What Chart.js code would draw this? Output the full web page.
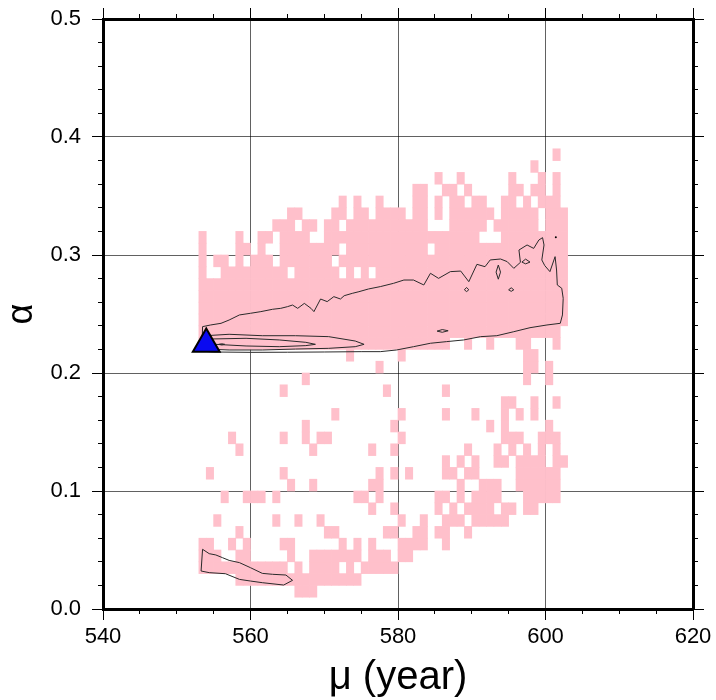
<!DOCTYPE html>
<html>
<head>
<meta charset="utf-8">
<script src="https://cdn.jsdelivr.net/npm/chart.js@4.4.1/dist/chart.umd.min.js"></script>
<style>
html,body{margin:0;padding:0;background:#fff;}
canvas{display:block;}
</style>
</head>
<body>
<canvas id="c" width="716" height="700"></canvas>
<script>
// ---------------- data ----------------
const muMajorTicks = [540, 560, 580, 600, 620];
const muMinorTicks = [540, 545, 550, 555, 560, 565, 570, 575, 580, 585, 590, 595, 600, 605, 610, 615, 620];
const alphaMajorTicks = [0.0, 0.1, 0.2, 0.3, 0.4, 0.5];
const alphaMinorTicks = [0.0, 0.02, 0.04, 0.06, 0.08, 0.1, 0.12, 0.14, 0.16, 0.18, 0.2, 0.22, 0.24, 0.26, 0.28, 0.3, 0.32, 0.34, 0.36, 0.38, 0.4, 0.42, 0.44, 0.46, 0.48, 0.5];

// shaded cells: 1 year wide, 0.01 tall; columns counted from firstYear
const firstYear = 553;
const cellAlphaStep = 0.01;
const rowAlphaLow = [0.38, 0.37, 0.36, 0.35, 0.34, 0.33, 0.32, 0.31, 0.30, 0.29,
                     0.28, 0.27, 0.26, 0.25, 0.24, 0.23, 0.22, 0.21, 0.20, 0.19,
                     0.18, 0.17, 0.16, 0.15, 0.14, 0.13, 0.12, 0.11, 0.10, 0.09,
                     0.08, 0.07, 0.06, 0.05, 0.04, 0.03, 0.02, 0.01];
const rowCells = [
  "48",
  "45",
  "32,35,42,46,48",
  "29-30,33-34,36,42-43,45-46,48",
  "19,21,24,29-30,32,34-35,37-38,41-42,44,46-48",
  "12-13,18-19,21-22,24-27,29-30,32,34-39,41-45,47-49",
  "10-12,14-15,17-18,20-30,34-38,40-45,47-49",
  "0,5,8-9,11-14,17-37,41-49",
  "0,5-6,8,11-18,20-30,32-49",
  "0,2-3,5,7-9,11-17,19-49",
  "0,3-11,13-18,20,22,24-49",
  "0-49",
  "0-49",
  "0-49",
  "0-49",
  "0-48",
  "0-33,36,39,43-44,48",
  "20,27,44-45",
  "24,44-45,47",
  "14,44,47",
  "11,25,33",
  "41-42,45,48",
  "18,27,33,37,41,43,45",
  "14,26,39,41,47",
  "4,11,14,16-17,27,41-43,46-48",
  "5,15,23,26,36,40,42,44,46,48",
  "33,35,37,40-41,43-46,48-49",
  "1,11,24,26,28,33-34,36-37,43-48",
  "12,15,23-24,35,38-40,43-48",
  "3,6-8,10,21-22,24,32-33,35,37-40,44-48",
  "23,26,32,34,36-39,41-42,44-45",
  "2,10,13,16,27,30,33-35,37-41",
  "5,17-18,25-26,29-30,32-33,36",
  "0-1,4,6,11-12,19,21,23,27-30,33",
  "0-2,5-6,12,15-21,23-25,27-28",
  "0-11,13,15-18,20,22-26",
  "5-21",
  "13-15"
];

// contour lines
const outerMu = [553.4, 553.5, 554.6, 556.0, 557.1, 558.5, 560.0, 561.4, 563.0, 564.1, 565.0, 565.7, 566.4, 567.3, 568.2, 568.6, 569.5, 570.4, 571.3, 572.2, 572.7, 573.8, 574.7, 576.0, 577.6, 579.4, 580.8, 582.1, 583.5, 584.4, 585.5, 587.1, 588.5, 589.6, 590.7, 591.8, 592.5, 593.9, 594.8, 595.7, 596.6, 596.4, 597.5, 598.4, 599.1, 599.6, 599.8, 599.5, 599.9, 600.6, 601.3, 601.5, 601.6, 602.2, 602.4, 602.3, 602.0, 600.2, 597.9, 595.7, 593.4, 591.2, 588.9, 586.6, 584.4, 582.1, 579.8, 577.6, 575.1, 570.0, 565.0, 560.0, 555.0, 553.4];
const outerAlpha = [0.2185, 0.2393, 0.2407, 0.2421, 0.2449, 0.2492, 0.2506, 0.2520, 0.2540, 0.2548, 0.2562, 0.2576, 0.2548, 0.2590, 0.2548, 0.2520, 0.2627, 0.2605, 0.2647, 0.2627, 0.2655, 0.2675, 0.2689, 0.2712, 0.2732, 0.2760, 0.2788, 0.2788, 0.2746, 0.2845, 0.2802, 0.2859, 0.2864, 0.2774, 0.2921, 0.2901, 0.2958, 0.2966, 0.2944, 0.2887, 0.2938, 0.3042, 0.3085, 0.3056, 0.3127, 0.3147, 0.3085, 0.2958, 0.2910, 0.2859, 0.2986, 0.2873, 0.2746, 0.2718, 0.2633, 0.2492, 0.2421, 0.2407, 0.2384, 0.2350, 0.2316, 0.2308, 0.2280, 0.2266, 0.2252, 0.2223, 0.2195, 0.2181, 0.2181, 0.2178, 0.2176, 0.2175, 0.2178, 0.2185];
const middleMu = [553.9, 557.1, 561.6, 566.1, 570.6, 574.2, 575.4, 574.2, 570.6, 566.1, 561.6, 557.1, 553.9, 553.9];
const middleAlpha = [0.2316, 0.2328, 0.2316, 0.2316, 0.2308, 0.2271, 0.2243, 0.2223, 0.2209, 0.2203, 0.2195, 0.2195, 0.2203, 0.2316];
const innerMu = [554.4, 559.4, 563.9, 567.5, 568.8, 567.5, 563.9, 559.4, 555.2, 554.4, 554.4];
const innerAlpha = [0.2288, 0.2294, 0.2280, 0.2260, 0.2243, 0.2232, 0.2223, 0.2229, 0.2243, 0.2265, 0.2288];
const tinyMu = [555.7, 556.1, 556.5, 556.1, 555.7];
const tinyAlpha = [0.2243, 0.2248, 0.2243, 0.2238, 0.2243];
const diamondMu = [593.6, 593.9, 593.6, 593.3, 593.6];
const diamondAlpha = [0.2915, 0.2855, 0.2795, 0.2855, 0.2915];
const loopAMu = [589.0, 589.3, 589.6, 589.3, 589.0];
const loopAAlpha = [0.2705, 0.2725, 0.2705, 0.2690, 0.2705];
const loopBMu = [595.0, 595.35, 595.7, 595.35, 595.0];
const loopBAlpha = [0.2705, 0.2722, 0.2705, 0.2692, 0.2705];
const loopCMu = [585.3, 586.0, 586.8, 586.0, 585.3];
const loopCAlpha = [0.2355, 0.2368, 0.2358, 0.2345, 0.2355];
const loopDMu = [596.8, 597.3, 597.9, 597.3, 596.8];
const loopDAlpha = [0.2940, 0.2965, 0.2940, 0.2925, 0.2940];
const lowMu = [553.5, 553.3, 554.4, 556.6, 558.5, 560.0, 561.6, 564.5, 565.7, 564.8, 563.0, 561.6, 560.0, 558.5, 557.1, 556.2, 555.3, 554.4, 553.5];
const lowAlpha = [0.0506, 0.0322, 0.0308, 0.0299, 0.0251, 0.0237, 0.0223, 0.0203, 0.0243, 0.0288, 0.0294, 0.0302, 0.0350, 0.0393, 0.0412, 0.0435, 0.0458, 0.0469, 0.0506];
const dotMu = [601.4];
const dotAlpha = [0.315];

// best-fit marker
const bestMu = [554.0];
const bestAlpha = [0.2245];

// ---------------- build chart ----------------
const FONT = "'Liberation Sans', Arial, Helvetica, sans-serif";
Chart.defaults.font.family = FONT;
Chart.defaults.color = '#000';

function expandCols(spec) {
  const out = [];
  spec.split(',').forEach(part => {
    const ab = part.split('-').map(Number);
    const a = ab[0], b = ab.length > 1 ? ab[1] : ab[0];
    for (let k = a; k <= b; k++) out.push(k);
  });
  return out;
}
function pts(mu, al) { return mu.map((m, i) => ({ x: m, y: al[i] })); }

const cellDatasets = rowCells.map((spec, r) => ({
  type: 'bar',
  xAxisID: 'x', yAxisID: 'y',
  data: expandCols(spec).map(k => ({ x: firstYear + k + 0.5, y: [rowAlphaLow[r], rowAlphaLow[r] + cellAlphaStep] })),
  backgroundColor: 'rgb(255,192,203)',
  borderWidth: 0,
  grouped: false,
  barPercentage: 1,
  categoryPercentage: 1,
  order: 3
}));

const contourSets = [
  [outerMu, outerAlpha], [middleMu, middleAlpha], [innerMu, innerAlpha], [tinyMu, tinyAlpha],
  [diamondMu, diamondAlpha], [loopAMu, loopAAlpha], [loopBMu, loopBAlpha], [loopCMu, loopCAlpha],
  [loopDMu, loopDAlpha], [lowMu, lowAlpha]
];
const contourDatasets = contourSets.map(([m, a]) => ({
  type: 'line',
  xAxisID: 'x', yAxisID: 'y',
  data: pts(m, a),
  borderColor: '#2a2a2a',
  borderWidth: 1,
  pointRadius: 0,
  fill: false,
  tension: 0,
  order: 1
}));

const dotDataset = {
  type: 'scatter', xAxisID: 'x', yAxisID: 'y',
  data: pts(dotMu, dotAlpha),
  pointRadius: 1, pointBackgroundColor: '#000', pointBorderWidth: 0, order: 1
};

const bestDataset = {
  type: 'scatter', xAxisID: 'x', yAxisID: 'y',
  data: pts(bestMu, bestAlpha),
  pointStyle: 'triangle',
  pointRadius: 15.5,
  pointBackgroundColor: 'rgb(10,10,240)',
  pointBorderColor: '#000',
  pointBorderWidth: 2,
  order: 0
};

function setTicks(arr) { return s => { s.ticks = arr.map(v => ({ value: v })); }; }
function fixSize(w, h) {
  return s => {
    if (w !== null) s.width = w;
    if (h !== null) s.height = h;
    s.paddingTop = 0; s.paddingBottom = 0; s.paddingLeft = 0; s.paddingRight = 0;
  };
}
const GRID_COLOR = 'rgba(0,0,0,0.62)';

function xAxis(extra) {
  return Object.assign({ type: 'linear', min: 540, max: 620, offset: false, z: 1 }, extra);
}
function yAxis(extra) {
  return Object.assign({ type: 'linear', min: 0, max: 0.5, offset: false, beginAtZero: false, z: 1 }, extra);
}

new Chart(document.getElementById('c'), {
  type: 'scatter',
  data: { datasets: [bestDataset, dotDataset, ...contourDatasets, ...cellDatasets] },
  options: {
    responsive: false,
    devicePixelRatio: 1,
    animation: false,
    layout: { padding: 0 },
    plugins: { legend: { display: false }, tooltip: { enabled: false } },
    events: [],
    scales: {
      x: xAxis({
        position: 'bottom', weight: 1,
        afterBuildTicks: setTicks(muMajorTicks),
        ticks: { font: { size: 22 }, color: '#000', padding: 4, maxRotation: 0, autoSkip: false,
                 callback: v => String(v) },
        grid: { offset: false, color: GRID_COLOR, lineWidth: 1, tickLength: 11, tickColor: '#000', tickWidth: 1 },
        border: { display: true, color: '#000', width: 3 },
        title: { display: true, text: 'μ (year)', font: { size: 40 }, color: '#000', padding: { top: 0, bottom: -2 } },
        afterFit: fixSize(null, 91)
      }),
      xMinor: xAxis({
        position: 'bottom', weight: 0,
        afterBuildTicks: setTicks(muMinorTicks),
        ticks: { display: false },
        grid: { offset: false, drawOnChartArea: false, tickLength: 5, tickColor: '#000', tickWidth: 1 },
        border: { display: false },
        afterFit: fixSize(null, 0)
      }),
      xTop: xAxis({
        position: 'top', weight: 1,
        afterBuildTicks: setTicks(muMajorTicks),
        ticks: { display: false },
        grid: { offset: false, drawOnChartArea: false, tickLength: 11, tickColor: '#000', tickWidth: 1 },
        border: { display: true, color: '#000', width: 3 },
        afterFit: fixSize(null, 19)
      }),
      xTopMinor: xAxis({
        position: 'top', weight: 0,
        afterBuildTicks: setTicks(muMinorTicks),
        ticks: { display: false },
        grid: { offset: false, drawOnChartArea: false, tickLength: 5, tickColor: '#000', tickWidth: 1 },
        border: { display: false },
        afterFit: fixSize(null, 0)
      }),
      y: yAxis({
        position: 'left', weight: 1,
        afterBuildTicks: setTicks(alphaMajorTicks),
        ticks: { font: { size: 22 }, color: '#000', padding: 11, callback: v => Number(v).toFixed(1) },
        grid: { offset: false, color: GRID_COLOR, lineWidth: 1, tickLength: 11, tickColor: '#000', tickWidth: 1 },
        border: { display: true, color: '#000', width: 3 },
        title: { display: true, text: 'α', font: { size: 36 }, color: '#000', padding: { top: 0, bottom: 0 } },
        afterFit: fixSize(103, null)
      }),
      yMinor: yAxis({
        position: 'left', weight: 0,
        afterBuildTicks: setTicks(alphaMinorTicks),
        ticks: { display: false },
        grid: { offset: false, drawOnChartArea: false, tickLength: 5, tickColor: '#000', tickWidth: 1 },
        border: { display: false },
        afterFit: fixSize(0, null)
      }),
      yRight: yAxis({
        position: 'right', weight: 1,
        afterBuildTicks: setTicks(alphaMajorTicks),
        ticks: { display: false },
        grid: { offset: false, drawOnChartArea: false, tickLength: 11, tickColor: '#000', tickWidth: 1 },
        border: { display: true, color: '#000', width: 3 },
        afterFit: fixSize(23, null)
      }),
      yRightMinor: yAxis({
        position: 'right', weight: 0,
        afterBuildTicks: setTicks(alphaMinorTicks),
        ticks: { display: false },
        grid: { offset: false, drawOnChartArea: false, tickLength: 5, tickColor: '#000', tickWidth: 1 },
        border: { display: false },
        afterFit: fixSize(0, null)
      })
    }
  }
});
</script>
</body>
</html>
